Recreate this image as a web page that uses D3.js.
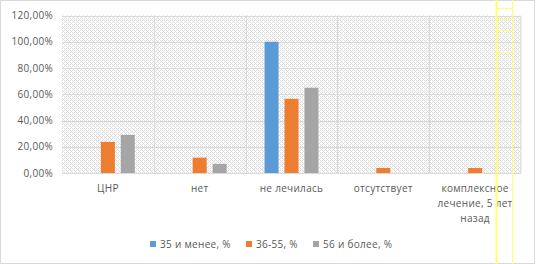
<!DOCTYPE html>
<html>
<head>
<meta charset="utf-8">
<script src="https://cdn.jsdelivr.net/npm/d3@7"></script>
<style>
  body { margin: 0; background: #fff; }
  svg text { font-family: "Open Sans", "Liberation Sans", sans-serif; fill: #595959; }
</style>
</head>
<body>
<div id="chart"></div>
<script>
// Data
const categories = ["ЦНР", "нет", "не лечилась", "отсутствует", "комплексное лечение, 5 лет назад"];
const seriesNames = ["35 и менее, %", "36-55, %", "56 и более, %"];
const young = [0, 0, 1.00, 0, 0];
const middle = [0.237, 0.117, 0.565, 0.038, 0.038];
const older = [0.29, 0.07, 0.65, 0, 0];
const colors = ["#5b9bd5", "#ed7d31", "#a5a5a5"];
const yTicks = [0, 0.2, 0.4, 0.6, 0.8, 1.0, 1.2];

const width = 536, height = 264;
const margin = { top: 15.5, right: 15, bottom: 91, left: 62 };

const svg = d3.select("#chart")
    .append("svg")
    .attr("width", width)
    .attr("height", height);

// Dotted fill of the plot area
const defs = svg.append("defs");
const pat = defs.append("pattern")
    .attr("id", "dots")
    .attr("width", 4).attr("height", 4)
    .attr("patternUnits", "userSpaceOnUse");
pat.append("rect").attr("width", 4).attr("height", 4).attr("fill", "#fff");
[[0, 0], [2, 0], [1, 1], [0, 2], [3, 3], [2, 2]].forEach(p => {
    pat.append("rect").attr("x", p[0]).attr("y", p[1])
        .attr("width", 1).attr("height", 1).attr("fill", "#dcdcdc");
});

// Chart border
svg.append("rect")
    .attr("x", 0.5).attr("y", 0.5)
    .attr("width", width - 2).attr("height", height - 1)
    .attr("fill", "none").attr("stroke", "#d9d9d9");

const x = d3.scaleBand()
    .domain(categories)
    .range([margin.left, width - margin.right]);

const y = d3.scaleLinear()
    .domain([0, 1.2])
    .range([height - margin.bottom, margin.top]);

const inner = d3.scaleBand()
    .domain(seriesNames)
    .range([0, x.bandwidth()])
    .paddingInner(0.3)
    .paddingOuter(0.95);

// plot background
svg.append("rect")
    .attr("x", margin.left).attr("y", y(1.2))
    .attr("width", x.range()[1] - margin.left)
    .attr("height", y(0) - y(1.2))
    .attr("fill", "url(#dots)");

// horizontal gridlines
svg.append("g")
    .selectAll("line")
    .data(yTicks.slice(1))
    .enter()
    .append("line")
    .attr("x1", margin.left).attr("x2", x.range()[1])
    .attr("y1", d => Math.round(y(d)) + 0.5)
    .attr("y2", d => Math.round(y(d)) + 0.5)
    .attr("stroke", "#d9d9d9");

// vertical category separators
svg.append("g")
    .selectAll("line")
    .data(categories.slice(1).concat(["_end"]))
    .enter()
    .append("line")
    .attr("x1", d => d === "_end" ? x.range()[1] : Math.round(x(d)) + 0.5)
    .attr("x2", d => d === "_end" ? x.range()[1] : Math.round(x(d)) + 0.5)
    .attr("y1", y(1.2)).attr("y2", y(0))
    .attr("stroke", "#d9d9d9");

// bars
const series = [young, middle, older];
series.forEach((vals, si) => {
    svg.append("g")
        .selectAll("rect")
        .data(vals)
        .enter()
        .append("rect")
        .attr("x", (d, i) => x(categories[i]) + inner(seriesNames[si]))
        .attr("y", d => y(d))
        .attr("width", inner.bandwidth())
        .attr("height", d => y(0) - y(d))
        .attr("fill", colors[si]);
});

// baseline
svg.append("line")
    .attr("x1", margin.left).attr("x2", x.range()[1])
    .attr("y1", Math.round(y(0)) + 0.5).attr("y2", Math.round(y(0)) + 0.5)
    .attr("stroke", "#d9d9d9");

// y axis labels
svg.append("g")
    .selectAll("text")
    .data(yTicks)
    .enter()
    .append("text")
    .attr("x", 53)
    .attr("y", d => y(d) + 3.5)
    .attr("text-anchor", "end")
    .attr("font-size", "10px")
    .attr("letter-spacing", "0.3px")
    .text(d => d3.format(".2f")(d * 100).replace(".", ",") + "%");

// category labels (wrapped like the original)
const wrapped = {
    "комплексное лечение, 5 лет назад": ["комплексное", "лечение, 5 лет", "назад"]
};
categories.forEach(c => {
    const lines = wrapped[c] || [c];
    const t = svg.append("text")
        .attr("text-anchor", "middle")
        .attr("font-size", "10px")
        .attr("letter-spacing", "0.3px");
    lines.forEach((l, i) => {
        t.append("tspan")
            .attr("x", x(c) + x.bandwidth() / 2)
            .attr("y", 192 + i * 15)
            .text(l);
    });
});

// legend
const legendX = [150, 246, 313];
const legend = svg.append("g")
    .selectAll("g")
    .data(seriesNames)
    .enter()
    .append("g")
    .attr("transform", (d, i) => `translate(${legendX[i]},241)`);
legend.append("rect")
    .attr("width", 6).attr("height", 6)
    .attr("fill", (d, i) => colors[i]);
legend.append("text")
    .attr("x", 10).attr("y", 6.5)
    .attr("font-size", "10px")
    .attr("letter-spacing", "0.3px")
    .text(d => d);

// yellow guide marks on the right (present in the original picture)
const guideY = [8, 19, 30, 52];
const guides = svg.append("g").attr("stroke", "#ffff70");
guides.append("line").attr("x1", 496.5).attr("x2", 496.5).attr("y1", 0).attr("y2", height).attr("stroke-width", 2);
guides.append("line").attr("x1", 512.5).attr("x2", 512.5).attr("y1", 0).attr("y2", height);
guides.selectAll("line.h")
    .data(guideY)
    .enter()
    .append("line")
    .attr("class", "h")
    .attr("x1", 497).attr("x2", 512)
    .attr("y1", d => d + 0.5).attr("y2", d => d + 0.5);
</script>
</body>
</html>
